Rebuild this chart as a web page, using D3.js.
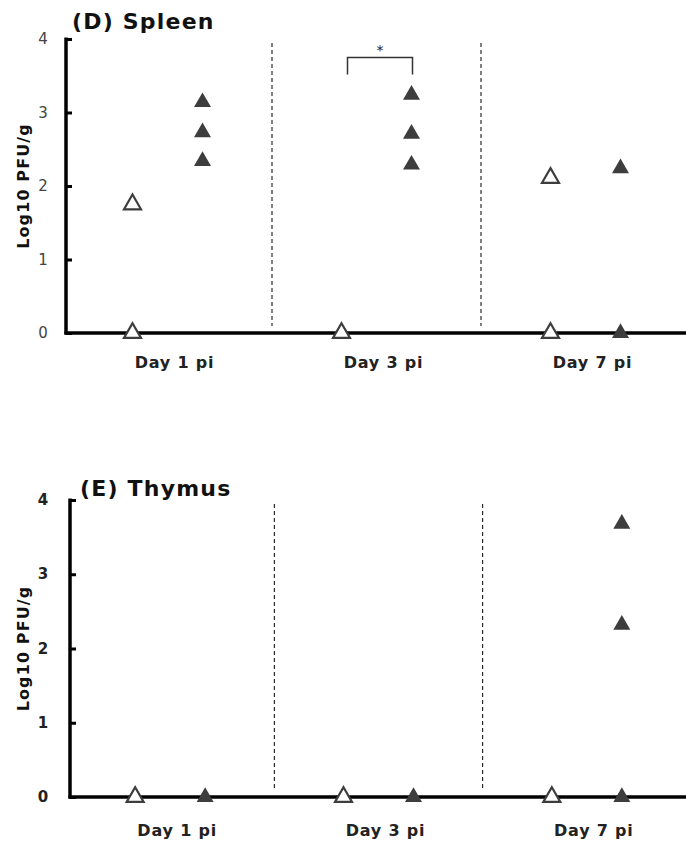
<!DOCTYPE html>
<html>
<head>
<meta charset="utf-8">
<script src="https://cdn.jsdelivr.net/npm/d3@7/dist/d3.min.js"></script>
<style>
  body { margin: 0; background: #fff; }
  svg { display: block; font-family: "DejaVu Sans", Verdana, sans-serif; }
</style>
</head>
<body>
<svg id="chart" width="686" height="844"></svg>
<script>
// Time points post infection
const days = ["Day 1 pi", "Day 3 pi", "Day 7 pi"];
const groups = ["mock", "infected"];
const yTicks = [0, 1, 2, 3, 4];

// Log10 PFU/g per animal, one inner list per time point
const spleenMock = [[0, 1.75], [0], [0, 2.11]];
const spleenInfected = [[3.14, 2.73, 2.34], [3.24, 2.71, 2.29], [0, 2.24]];
const thymusMock = [[0], [0], [0]];
const thymusInfected = [[0], [0], [0, 2.32, 3.68]];

const panels = [
  { title: "(D) Spleen", mock: spleenMock, infected: spleenInfected,
    left: 66, top: 39, bottom: 333, bandStart: 63, bandEnd: 690,
    titleX: 72, titleDy: -10, labelDy: 35,
    tickBold: false, sig: { day: "Day 3 pi", y: 3.75 } },
  { title: "(E) Thymus", mock: thymusMock, infected: thymusInfected,
    left: 70, top: 500, bottom: 797, bandStart: 66, bandEnd: 691,
    titleX: 80, titleDy: -4, labelDy: 39,
    tickBold: true, sig: null }
];

const svg = d3.select("#chart");
const tri = d3.symbol().type(d3.symbolTriangle).size(125);

panels.forEach(p => {
  const g = svg.append("g");
  const x = d3.scaleBand().domain(days).range([p.bandStart, p.bandEnd]);
  const sub = d3.scalePoint().domain(groups).range([-35, 35]);
  const y = d3.scaleLinear().domain([0, 4]).range([p.bottom, p.top]);

  // dashed separators between time points
  days.slice(1).forEach(d => {
    g.append("line")
      .attr("x1", x(d)).attr("x2", x(d))
      .attr("y1", p.top + 4).attr("y2", p.bottom - 7)
      .attr("stroke", "#000").attr("stroke-width", 1)
      .attr("stroke-dasharray", "4,3");
  });

  // y axis with inward ticks
  const yAxis = d3.axisRight(y).tickValues(yTicks).tickSize(6).tickFormat("");
  const ya = g.append("g").attr("transform", `translate(${p.left},0)`).call(yAxis);
  ya.select(".domain").remove();
  ya.selectAll(".tick line").attr("stroke", "#000").attr("stroke-width", 3);
  g.append("line")
    .attr("x1", p.left).attr("x2", p.left)
    .attr("y1", y(4) - 1.5).attr("y2", y(0) + 1.5)
    .attr("stroke", "#000").attr("stroke-width", 3.5);

  // tick labels
  g.selectAll(".ylab").data(yTicks).join("text")
    .attr("x", 43).attr("y", d => y(d) + 5)
    .attr("text-anchor", "middle")
    .attr("font-size", 15)
    .attr("font-weight", p.tickBold ? "bold" : "normal")
    .attr("fill", p.tickBold ? "#222" : "#444")
    .text(d => d);

  // x axis baseline
  g.append("line")
    .attr("x1", p.left - 1.5).attr("x2", 686)
    .attr("y1", y(0)).attr("y2", y(0))
    .attr("stroke", "#000").attr("stroke-width", 3.5);

  // x axis category labels
  g.selectAll(".xlab").data(days).join("text")
    .attr("x", d => x(d) + x.bandwidth() / 2 + 7)
    .attr("y", p.bottom + p.labelDy)
    .attr("text-anchor", "middle")
    .attr("font-size", 16).attr("font-weight", "bold").attr("fill", "#222")
    .attr("letter-spacing", "0.8px")
    .text(d => d);

  // y axis title
  g.append("text")
    .attr("transform", `translate(29,${(p.top + p.bottom) / 2}) rotate(-90)`)
    .attr("text-anchor", "middle")
    .attr("font-size", 16).attr("font-weight", "bold").attr("fill", "#111")
    .attr("letter-spacing", "1.1px")
    .text("Log10 PFU/g");

  // panel title
  g.append("text")
    .attr("x", p.titleX).attr("y", p.top + p.titleDy)
    .attr("font-size", 22).attr("font-weight", "bold").attr("fill", "#111")
    .attr("letter-spacing", "1.2px")
    .text(p.title);

  // points
  const pts = [];
  days.forEach((d, i) => {
    p.mock[i].forEach(v => pts.push({ day: d, group: "mock", v }));
    p.infected[i].forEach(v => pts.push({ day: d, group: "infected", v }));
  });
  g.selectAll(".pt").data(pts).join("path")
    .attr("d", tri)
    .attr("transform", d => `translate(${x(d.day) + x.bandwidth() / 2 + sub(d.group)},${y(d.v)})`)
    .attr("fill", d => d.group === "mock" ? "#fff" : "#3d3d3d")
    .attr("stroke", d => d.group === "mock" ? "#3d3d3d" : "none")
    .attr("stroke-width", 2.2);

  // significance bracket
  if (p.sig) {
    const cx = x(p.sig.day) + x.bandwidth() / 2;
    const x1 = cx + sub("mock") + 6, x2 = cx + sub("infected") + 1;
    const yt = y(p.sig.y);
    g.append("path")
      .attr("d", `M${x1},${yt + 17}V${yt}H${x2}V${yt + 17}`)
      .attr("fill", "none").attr("stroke", "#333").attr("stroke-width", 1.5);
    g.append("text")
      .attr("x", (x1 + x2) / 2).attr("y", yt - 2)
      .attr("text-anchor", "middle").attr("font-size", 14).attr("fill", "#222")
      .text("*");
  }
});
</script>
</body>
</html>
